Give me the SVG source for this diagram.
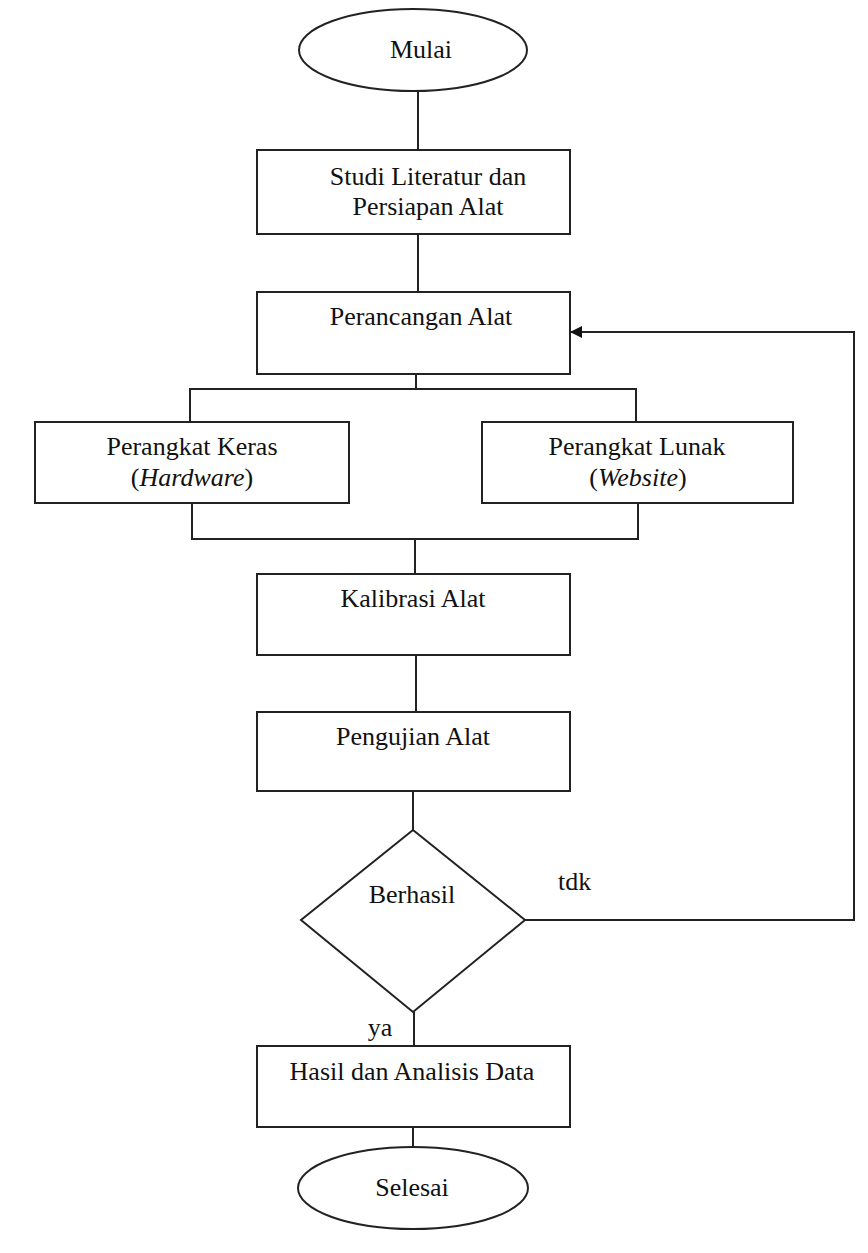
<svg xmlns="http://www.w3.org/2000/svg" width="868" height="1253" viewBox="0 0 868 1253">
<style>
.s{fill:#fff;stroke:#222;stroke-width:2}
.c{fill:none;stroke:#222;stroke-width:2}
text{font-family:"Liberation Serif","Times New Roman",serif;font-size:26px;fill:#111}
.m{text-anchor:middle}
</style>
<defs>
<marker id="ah" markerWidth="12" markerHeight="12" refX="12" refY="6" orient="auto" markerUnits="userSpaceOnUse">
<path d="M0,0 L12,6 L0,12 Z" fill="#111"/>
</marker>
</defs>
<g id="connectors">
<line class="c" x1="418" y1="91" x2="418" y2="150"/>
<line class="c" x1="418" y1="234" x2="418" y2="292"/>
<polyline class="c" points="416,374 416,389"/>
<polyline class="c" points="190,422 190,389 636,389 636,422"/>
<polyline class="c" points="192,503 192,539 638,539 638,503"/>
<line class="c" x1="415" y1="539" x2="415" y2="574"/>
<line class="c" x1="416" y1="655" x2="416" y2="712"/>
<line class="c" x1="413" y1="791" x2="413" y2="830"/>
<line class="c" x1="414" y1="1012" x2="414" y2="1046"/>
<line class="c" x1="413" y1="1127" x2="413" y2="1147"/>
<polyline class="c" points="525,920 854,920 854,332 570,332" marker-end="url(#ah)"/>
<text x="558" y="890">tdk</text>
<text class="m" x="380" y="1036">ya</text>
</g>
<g id="mulai">
<ellipse class="s" cx="413" cy="50" rx="114" ry="41"/>
<text class="m" x="421" y="58">Mulai</text>
</g>
<g id="studi">
<rect class="s" x="257" y="150" width="313" height="84"/>
<text class="m" x="428" y="185">Studi Literatur dan</text>
<text class="m" x="428" y="215">Persiapan Alat</text>
</g>
<g id="perancangan">
<rect class="s" x="257" y="292" width="313" height="82"/>
<text class="m" x="421" y="325">Perancangan Alat</text>
</g>
<g id="hardware">
<rect class="s" x="35" y="422" width="314" height="81"/>
<text class="m" x="192" y="455">Perangkat Keras</text>
<text class="m" x="192" y="486">(<tspan font-style="italic">Hardware</tspan>)</text>
</g>
<g id="website">
<rect class="s" x="482" y="422" width="311" height="81"/>
<text class="m" x="637" y="455">Perangkat Lunak</text>
<text class="m" x="638" y="486">(<tspan font-style="italic">Website</tspan>)</text>
</g>
<g id="kalibrasi">
<rect class="s" x="257" y="574" width="313" height="81"/>
<text class="m" x="413" y="607">Kalibrasi Alat</text>
</g>
<g id="pengujian">
<rect class="s" x="257" y="712" width="313" height="79"/>
<text class="m" x="413" y="745">Pengujian Alat</text>
</g>
<g id="berhasil">
<polygon class="s" points="413,830 525,920 413,1012 301,920"/>
<text class="m" x="412" y="903">Berhasil</text>
</g>
<g id="hasil">
<rect class="s" x="257" y="1046" width="313" height="81"/>
<text class="m" x="412" y="1080">Hasil dan Analisis Data</text>
</g>
<g id="selesai">
<ellipse class="s" cx="413" cy="1188" rx="115" ry="41"/>
<text class="m" x="412" y="1196">Selesai</text>
</g>
</svg>
